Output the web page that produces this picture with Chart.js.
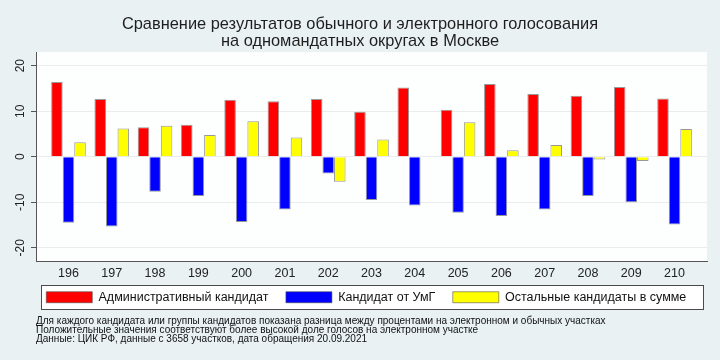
<!DOCTYPE html>
<html>
<head>
<meta charset="utf-8">
<script src="https://cdn.jsdelivr.net/npm/chart.js@4"></script>
<style>
  body { margin: 0; background: #e9f1f3; }
  canvas { display: block; }
</style>
</head>
<body>
<canvas id="chart" width="720" height="360"></canvas>
<script>
// Districts (одномандатные округа)
const districts = ['196', '197', '198', '199', '200', '201', '202', '203', '204', '205', '206', '207', '208', '209', '210'];

// Difference, e-voting minus regular polling stations, percentage points
const adminCandidate = [16.4, 12.7, 6.5, 7.0, 12.5, 12.2, 12.7, 9.9, 15.2, 10.3, 16.0, 13.8, 13.4, 15.3, 12.8];
const umgCandidate = [-14.5, -15.3, -7.7, -8.6, -14.3, -11.6, -3.7, -9.5, -10.7, -12.3, -13.0, -11.6, -8.6, -10.0, -14.9];
const otherCandidates = [3.2, 6.2, 6.8, 4.8, 7.8, 4.2, -5.5, 3.8, -0.1, 7.6, 1.4, 2.6, -0.6, -0.95, 6.1];

const yTicks = [-20, -10, 0, 10, 20];

const seriesNames = ['Административный кандидат', 'Кандидат от УмГ', 'Остальные кандидаты в сумме'];

const titleLines = [
    'Сравнение результатов обычного и электронного голосования',
    'на одномандатных округах в Москве'
];
const notes = [
    'Для каждого кандидата или группы кандидатов показана разница между процентами на электронном и обычных участках',
    'Положительные значения соответствуют более высокой доле голосов на электронном участке',
    'Данные: ЦИК РФ, данные с 3658 участков, дата обращения 20.09.2021'
];

const FONT = '"Liberation Sans", Arial, sans-serif';

function toPoints(values) {
    return values.map((v, i) => ({ x: i, y: v }));
}

// Backgrounds, legend frame, title, rotated y labels and notes
const decorations = {
    id: 'decorations',
    beforeDraw(chart) {
        const { ctx, chartArea } = chart;
        ctx.save();
        ctx.fillStyle = '#e9f1f3';
        ctx.fillRect(0, 0, chart.width, chart.height);
        ctx.fillStyle = '#fdfefe';
        ctx.fillRect(chartArea.left, chartArea.top, chartArea.right - chartArea.left, chartArea.bottom - chartArea.top);

        // frame around the legend
        const boxes = chart.legend.legendHitBoxes;
        if (boxes && boxes.length) {
            const first = boxes[0];
            const x0 = Math.round(first.left - 5);
            const x1 = Math.round(chartArea.right - 4);
            const y0 = Math.round(first.top - 6);
            const y1 = Math.round(first.top + first.height + 5);
            ctx.fillStyle = '#ffffff';
            ctx.fillRect(x0, y0, x1 - x0, y1 - y0);
            ctx.strokeStyle = '#4a4a4a';
            ctx.lineWidth = 1;
            ctx.strokeRect(x0 + 0.5, y0 + 0.5, x1 - x0, y1 - y0);
        }
        ctx.restore();
    },
    afterDraw(chart) {
        const { ctx } = chart;
        const yScale = chart.scales.y;
        ctx.save();

        // title
        ctx.fillStyle = '#1e1e1e';
        ctx.font = '16.4px ' + FONT;
        ctx.textAlign = 'center';
        ctx.textBaseline = 'alphabetic';
        ctx.fillText(titleLines[0], 360, 29);
        ctx.fillText(titleLines[1], 360, 46);

        // y tick labels, rotated like the original
        ctx.font = '12px ' + FONT;
        ctx.fillStyle = '#222';
        ctx.textAlign = 'center';
        ctx.textBaseline = 'middle';
        yTicks.forEach(v => {
            const y = yScale.getPixelForValue(v);
            ctx.save();
            ctx.translate(21, y);
            ctx.rotate(-Math.PI / 2);
            ctx.fillText(String(v), 0, 0);
            ctx.restore();
        });

        // notes
        ctx.font = '10px ' + FONT;
        ctx.fillStyle = '#111';
        ctx.textAlign = 'left';
        ctx.textBaseline = 'alphabetic';
        notes.forEach((line, i) => ctx.fillText(line, 36, 324 + i * 9));
        ctx.restore();
    }
};

const barBorder = 'rgba(70, 70, 70, 0.55)';

new Chart(document.getElementById('chart'), {
    type: 'bar',
    data: {
        datasets: [
            { label: seriesNames[0], data: toPoints(adminCandidate), backgroundColor: '#ff0000', borderColor: barBorder, borderWidth: 1 },
            { label: seriesNames[1], data: toPoints(umgCandidate), backgroundColor: '#0000ff', borderColor: barBorder, borderWidth: 1 },
            { label: seriesNames[2], data: toPoints(otherCandidates), backgroundColor: '#ffff00', borderColor: barBorder, borderWidth: 1 }
        ]
    },
    options: {
        responsive: false,
        animation: false,
        devicePixelRatio: 1,
        categoryPercentage: 0.8,
        barPercentage: 1.0,
        layout: { padding: { left: 36, right: 13, top: 52, bottom: 46.5 } },
        scales: {
            x: {
                type: 'linear',
                offset: false,
                min: -0.75,
                max: 14.75,
                afterBuildTicks: axis => { axis.ticks = districts.map((d, i) => ({ value: i })); },
                afterFit: axis => { axis.height = 22.5; },
                ticks: {
                    callback: value => districts[value],
                    font: { family: FONT, size: 12.5 },
                    color: '#222',
                    padding: 5,
                    maxRotation: 0,
                    autoSkip: false
                },
                grid: { color: 'rgba(0,0,0,0)', drawTicks: false, offset: false },
                border: { display: true, color: '#555', width: 1 }
            },
            y: {
                min: -23,
                max: 23,
                afterBuildTicks: axis => { axis.ticks = yTicks.map(v => ({ value: v })); },
                afterFit: axis => { axis.width = 0; },
                ticks: { display: false },
                grid: { color: '#e9eded', tickColor: '#555', tickLength: 5, drawTicks: true },
                border: { display: true, color: '#555', width: 1 }
            }
        },
        plugins: {
            title: { display: false },
            tooltip: { enabled: false },
            legend: {
                position: 'bottom',
                align: 'center',
                labels: {
                    boxWidth: 46,
                    boxHeight: 11,
                    padding: 7,
                    color: '#111',
                    font: { family: FONT, size: 12.5 },
                    // trailing spaces widen the gap between legend entries
                    generateLabels: chart => Chart.defaults.plugins.legend.labels.generateLabels(chart)
                        .map(item => Object.assign(item, { text: item.text + '   ' }))
                }
            }
        }
    },
    plugins: [decorations]
});
</script>
</body>
</html>
